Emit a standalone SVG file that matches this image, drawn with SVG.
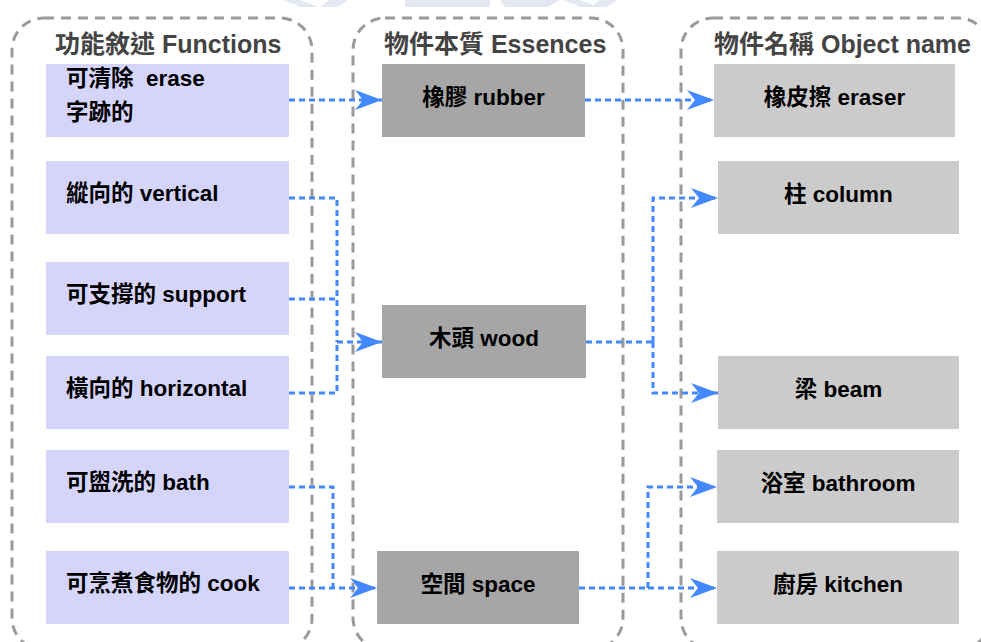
<svg xmlns="http://www.w3.org/2000/svg" width="981" height="642" viewBox="0 0 981 642">
  <defs>
    <style>
      .lane { fill: none; stroke: #9a9a9a; stroke-width: 3; stroke-dasharray: 10 7; }
      .title { font-family: "Liberation Sans", "Noto Sans CJK TC", sans-serif; font-weight: bold; font-size: 25px; fill: #444444; }
      .label { font-family: "Liberation Sans", "Noto Sans CJK TC", sans-serif; font-weight: bold; font-size: 22.5px; fill: #000000; }
      .mid { text-anchor: middle; }
      .func rect { fill: #d5d5fb; }
      .essence rect { fill: #a6a6a6; }
      .object rect { fill: #cbcbcb; }
      .link { fill: none; stroke: #4488ff; stroke-width: 3; stroke-dasharray: 6 4; }
      .arrow { marker-end: url(#head); }
      .wm { fill: #e4e8f3; }
    </style>
    <marker id="head" viewBox="0 0 27 20" refX="27" refY="10" markerWidth="27" markerHeight="20" markerUnits="userSpaceOnUse" orient="auto">
      <path d="M0,0 L27,10 L0,20 L8,10 Z" fill="#4488ff"/>
    </marker>
  </defs>

  <rect width="981" height="642" fill="#ffffff"/>

  <!-- faint background mark along the top edge -->
  <g id="backdrop">
    <polygon class="wm" points="283,0 300,0 318,7 301,7"/>
    <polygon class="wm" points="330,0 348,0 338,7 320,7"/>
    <rect class="wm" x="405" y="0" width="85" height="7"/>
    <rect class="wm" x="418" y="3" width="60" height="4" fill="#d9deee"/>
    <polygon class="wm" points="500,0 560,0 548,7 505,7"/>
    <polygon class="wm" points="563,0 580,0 598,7 581,7"/>
    <polygon class="wm" points="600,0 618,0 606,7 590,7"/>
  </g>

  <!-- swimlanes -->
  <g id="lanes">
    <rect class="lane" x="12" y="18" width="300" height="632" rx="32" ry="32"/>
    <rect class="lane" x="353" y="18" width="270" height="632" rx="32" ry="32"/>
    <rect class="lane" x="681" y="18" width="309" height="632" rx="32" ry="32"/>
    <text class="title" x="55" y="53">功能敘述 Functions</text>
    <text class="title" x="384" y="53">物件本質 Essences</text>
    <text class="title" x="714" y="53">物件名稱 Object name</text>
  </g>

  <!-- connectors -->
  <g id="connectors">
    <path class="link arrow" d="M289,100 H382"/>
    <path class="link arrow" d="M585,100 H714"/>
    <path class="link" d="M289,198 H337 V342"/>
    <path class="link" d="M289,299 H337"/>
    <path class="link" d="M289,393 H337 V342"/>
    <path class="link arrow" d="M337,342 H382"/>
    <path class="link" d="M586,342 H653"/>
    <path class="link arrow" d="M653,342 V198 H718"/>
    <path class="link arrow" d="M653,342 V393 H718"/>
    <path class="link" d="M289,487 H333 V588"/>
    <path class="link arrow" d="M289,588 H377"/>
    <path class="link" d="M579,588 H648"/>
    <path class="link arrow" d="M648,588 V487 H717"/>
    <path class="link arrow" d="M648,588 H717"/>
  </g>

  <!-- functions -->
  <g id="f-erase" class="func">
    <rect x="46" y="64" width="243" height="73"/>
    <text class="label" x="66" y="86">可清除&#160; erase</text>
    <text class="label" x="66" y="120">字跡的</text>
  </g>
  <g id="f-vertical" class="func">
    <rect x="46" y="161" width="243" height="73"/>
    <text class="label" x="66" y="201">縱向的 vertical</text>
  </g>
  <g id="f-support" class="func">
    <rect x="46" y="262" width="243" height="73"/>
    <text class="label" x="66" y="302">可支撐的 support</text>
  </g>
  <g id="f-horizontal" class="func">
    <rect x="46" y="356" width="243" height="73"/>
    <text class="label" x="66" y="396">橫向的 horizontal</text>
  </g>
  <g id="f-bath" class="func">
    <rect x="46" y="450" width="243" height="73"/>
    <text class="label" x="66" y="490">可盥洗的 bath</text>
  </g>
  <g id="f-cook" class="func">
    <rect x="46" y="551" width="243" height="73"/>
    <text class="label" x="66" y="591">可烹煮食物的 cook</text>
  </g>

  <!-- essences -->
  <g id="e-rubber" class="essence">
    <rect x="382" y="64" width="203" height="73"/>
    <text class="label mid" x="483.5" y="105">橡膠 rubber</text>
  </g>
  <g id="e-wood" class="essence">
    <rect x="382" y="305" width="204" height="73"/>
    <text class="label mid" x="484" y="346">木頭 wood</text>
  </g>
  <g id="e-space" class="essence">
    <rect x="377" y="551" width="202" height="73"/>
    <text class="label mid" x="478" y="592">空間 space</text>
  </g>

  <!-- object names -->
  <g id="o-eraser" class="object">
    <rect x="714" y="64" width="241" height="73"/>
    <text class="label mid" x="834.5" y="105">橡皮擦 eraser</text>
  </g>
  <g id="o-column" class="object">
    <rect x="718" y="161" width="241" height="73"/>
    <text class="label mid" x="838.5" y="202">柱 column</text>
  </g>
  <g id="o-beam" class="object">
    <rect x="718" y="356" width="241" height="73"/>
    <text class="label mid" x="838.5" y="397">梁 beam</text>
  </g>
  <g id="o-bathroom" class="object">
    <rect x="717" y="450" width="242" height="73"/>
    <text class="label mid" x="838" y="491">浴室 bathroom</text>
  </g>
  <g id="o-kitchen" class="object">
    <rect x="717" y="551" width="242" height="73"/>
    <text class="label mid" x="838" y="592">廚房 kitchen</text>
  </g>
</svg>
